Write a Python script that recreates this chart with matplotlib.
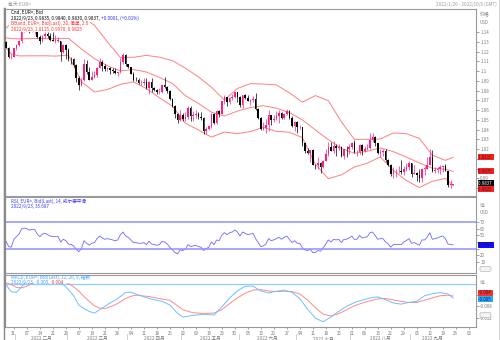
import numpy as np
import pandas as pd
import matplotlib
matplotlib.use('Agg')
import matplotlib.pyplot as plt
from matplotlib.lines import Line2D
from matplotlib.patches import Rectangle, FancyBboxPatch
from matplotlib.text import Annotation

plt.rcParams['font.family'] = ['Noto Sans CJK SC', 'DejaVu Sans']

# EUR= daily bid candles, 2022/1/26 - 2022/9/23
days = pd.bdate_range('2022-01-26', '2022-09-23')

opens = [
    1.1300, 1.1240, 1.1145, 1.1145,
    1.1235, 1.1270, 1.1305, 1.1440, 1.1450, 1.1440, 1.1415, 1.1420, 1.1425, 1.1350,
    1.1305, 1.1355, 1.1375, 1.1360, 1.1320, 1.1310, 1.1310, 1.1305, 1.1195, 1.1265,
    1.1220, 1.1125, 1.1120, 1.1065, 1.0930, 1.0855, 1.0905, 1.1075, 1.0985, 1.0912,
    1.0942, 1.0955, 1.1033, 1.1095, 1.1050, 1.1016, 1.1030, 1.1008, 1.0997, 1.0980,
    1.0985, 1.1088, 1.1160,
    1.1067, 1.1045, 1.0972, 1.0905, 1.0903, 1.0877, 1.0877, 1.0886, 1.0830, 1.0891,
    1.0825, 1.0810, 1.0780, 1.0786, 1.0854, 1.0835, 1.0795, 1.0715, 1.0640, 1.0560,
    1.0497,
    1.0545, 1.0505, 1.0525, 1.0620, 1.0540, 1.0550, 1.0560, 1.0530, 1.0515, 1.0380,
    1.0410, 1.0435, 1.0555, 1.0465, 1.0585, 1.0560, 1.0690, 1.0735, 1.0680, 1.0725,
    1.0730, 1.0780,
    1.0735, 1.0650, 1.0750, 1.0720, 1.0695, 1.0705, 1.0715, 1.0615, 1.0520, 1.0410,
    1.0415, 1.0445, 1.0545, 1.0495, 1.0510, 1.0535, 1.0565, 1.0520, 1.0555, 1.0585,
    1.0520, 1.0440,
    1.0480, 1.0425, 1.0425, 1.0265, 1.0180, 1.0160, 1.0185, 1.0040, 1.0035, 1.0060,
    1.0020, 1.0080, 1.0145, 1.0225, 1.0180, 1.0230, 1.0210, 1.0225, 1.0130, 1.0200,
    1.0195,
    1.0220, 1.0260, 1.0165, 1.0165, 1.0245, 1.0180, 1.0195, 1.0210, 1.0295, 1.0320,
    1.0260, 1.0160, 1.0170, 1.0180, 1.0090, 1.0040, 0.9940, 0.9970, 0.9970, 0.9970,
    0.9965, 1.0000, 1.0020,
    1.0055, 0.9945, 0.9955, 0.9930, 0.9905, 1.0000, 1.0000, 1.0040, 1.0120, 0.9970,
    0.9980, 0.9995, 1.0015, 1.0025, 0.9970, 0.9835, 0.9835,
]
highs = [
    1.1310, 1.1245, 1.1175, 1.1240,
    1.1275, 1.1315, 1.1450, 1.1485, 1.1460, 1.1450, 1.1450, 1.1495, 1.1440, 1.1370,
    1.1365, 1.1395, 1.1395, 1.1385, 1.1395, 1.1365, 1.1345, 1.1310, 1.1275, 1.1275,
    1.1235, 1.1145, 1.1135, 1.1070, 1.0945, 1.0930, 1.1120, 1.1110, 1.1040, 1.1000,
    1.1005, 1.1045, 1.1135, 1.1115, 1.1070, 1.1040, 1.1045, 1.1030, 1.1035, 1.0990,
    1.1135, 1.1185, 1.1170,
    1.1075, 1.1045, 1.0990, 1.0940, 1.0925, 1.0905, 1.0925, 1.0925, 1.0900, 1.0925,
    1.0840, 1.0820, 1.0825, 1.0870, 1.0935, 1.0850, 1.0805, 1.0720, 1.0655, 1.0570,
    1.0595,
    1.0565, 1.0575, 1.0640, 1.0640, 1.0590, 1.0595, 1.0575, 1.0575, 1.0530, 1.0425,
    1.0440, 1.0565, 1.0565, 1.0605, 1.0595, 1.0695, 1.0750, 1.0735, 1.0735, 1.0765,
    1.0785, 1.0785,
    1.0740, 1.0755, 1.0765, 1.0750, 1.0710, 1.0745, 1.0775, 1.0625, 1.0525, 1.0475,
    1.0505, 1.0600, 1.0550, 1.0545, 1.0585, 1.0605, 1.0575, 1.0570, 1.0615, 1.0605,
    1.0535, 1.0490,
    1.0485, 1.0445, 1.0430, 1.0275, 1.0215, 1.0190, 1.0200, 1.0050, 1.0120, 1.0070,
    1.0090, 1.0200, 1.0270, 1.0275, 1.0280, 1.0255, 1.0255, 1.0235, 1.0205, 1.0235,
    1.0255,
    1.0275, 1.0295, 1.0190, 1.0255, 1.0250, 1.0230, 1.0250, 1.0365, 1.0365, 1.0330,
    1.0265, 1.0200, 1.0200, 1.0200, 1.0095, 1.0045, 1.0015, 0.9990, 1.0030, 1.0090,
    1.0030, 1.0055, 1.0080,
    1.0055, 1.0035, 0.9960, 0.9990, 1.0010, 1.0030, 1.0115, 1.0200, 1.0185, 1.0020,
    1.0015, 1.0035, 1.0030, 1.0050, 0.9975, 0.9880, 0.9840,
]
lows = [
    1.1235, 1.1135, 1.1120, 1.1140,
    1.1215, 1.1255, 1.1290, 1.1405, 1.1410, 1.1390, 1.1400, 1.1375, 1.1340, 1.1280,
    1.1300, 1.1335, 1.1340, 1.1305, 1.1305, 1.1290, 1.1300, 1.1105, 1.1180, 1.1125,
    1.1105, 1.1070, 1.1040, 1.0890, 1.0805, 1.0850, 1.0900, 1.0970, 1.0905, 1.0910,
    1.0925, 1.0940, 1.1030, 1.1005, 1.1000, 1.0995, 1.0965, 1.0980, 1.0965, 1.0945,
    1.0980, 1.1070, 1.1055,
    1.1030, 1.0965, 1.0900, 1.0895, 1.0870, 1.0860, 1.0860, 1.0820, 1.0760, 1.0780,
    1.0800, 1.0760, 1.0760, 1.0770, 1.0830, 1.0770, 1.0700, 1.0635, 1.0515, 1.0470,
    1.0490,
    1.0490, 1.0490, 1.0505, 1.0490, 1.0485, 1.0520, 1.0510, 1.0500, 1.0355, 1.0350,
    1.0390, 1.0420, 1.0460, 1.0460, 1.0530, 1.0555, 1.0660, 1.0645, 1.0665, 1.0700,
    1.0725, 1.0680,
    1.0630, 1.0625, 1.0715, 1.0690, 1.0655, 1.0680, 1.0605, 1.0505, 1.0395, 1.0400,
    1.0360, 1.0380, 1.0445, 1.0480, 1.0500, 1.0470, 1.0505, 1.0510, 1.0545, 1.0510,
    1.0430, 1.0380,
    1.0365, 1.0410, 1.0235, 1.0160, 1.0145, 1.0070, 1.0035, 0.9998, 0.9998, 0.9952,
    1.0005, 1.0080, 1.0125, 1.0180, 1.0155, 1.0130, 1.0185, 1.0115, 1.0095, 1.0115,
    1.0145,
    1.0195, 1.0160, 1.0125, 1.0150, 1.0140, 1.0165, 1.0190, 1.0200, 1.0275, 1.0235,
    1.0150, 1.0120, 1.0125, 1.0070, 1.0030, 0.9925, 0.9900, 0.9910, 0.9950, 0.9945,
    0.9935, 0.9970, 0.9985,
    0.9910, 0.9940, 0.9875, 0.9865, 0.9865, 0.9930, 1.0000, 1.0040, 0.9965, 0.9955,
    0.9955, 0.9945, 0.9965, 0.9970, 0.9810, 0.9805, 0.9830,
]
closes = [
    1.1240, 1.1145, 1.1147, 1.1235,
    1.1270, 1.1305, 1.1440, 1.1450, 1.1440, 1.1415, 1.1425, 1.1425, 1.1350, 1.1305,
    1.1355, 1.1375, 1.1360, 1.1320, 1.1310, 1.1310, 1.1310, 1.1195, 1.1265, 1.1220,
    1.1125, 1.1120, 1.1065, 1.0930, 1.0855, 1.0905, 1.1075, 1.0985, 1.0912, 1.0942,
    1.0955, 1.1033, 1.1095, 1.1050, 1.1016, 1.1030, 1.1008, 1.0997, 1.0980, 1.0985,
    1.1088, 1.1160, 1.1067,
    1.1045, 1.0972, 1.0905, 1.0903, 1.0877, 1.0880, 1.0886, 1.0830, 1.0891, 1.0825,
    1.0810, 1.0780, 1.0786, 1.0854, 1.0835, 1.0795, 1.0715, 1.0640, 1.0560, 1.0497,
    1.0545,
    1.0505, 1.0525, 1.0620, 1.0540, 1.0550, 1.0560, 1.0530, 1.0515, 1.0380, 1.0410,
    1.0435, 1.0555, 1.0465, 1.0585, 1.0560, 1.0690, 1.0735, 1.0680, 1.0725, 1.0730,
    1.0780, 1.0735,
    1.0650, 1.0750, 1.0720, 1.0695, 1.0705, 1.0715, 1.0615, 1.0520, 1.0410, 1.0415,
    1.0445, 1.0545, 1.0495, 1.0510, 1.0535, 1.0565, 1.0520, 1.0555, 1.0585, 1.0520,
    1.0440, 1.0480,
    1.0425, 1.0427, 1.0265, 1.0180, 1.0160, 1.0185, 1.0040, 1.0035, 1.0060, 1.0020,
    1.0080, 1.0145, 1.0225, 1.0180, 1.0230, 1.0210, 1.0225, 1.0130, 1.0200, 1.0195,
    1.0220,
    1.0260, 1.0165, 1.0167, 1.0245, 1.0180, 1.0195, 1.0210, 1.0295, 1.0320, 1.0260,
    1.0160, 1.0170, 1.0180, 1.0090, 1.0040, 0.9940, 0.9970, 0.9972, 0.9970, 0.9965,
    1.0000, 1.0020, 1.0055,
    0.9945, 0.9955, 0.9930, 0.9905, 1.0000, 1.0002, 1.0040, 1.0120, 0.9970, 0.9980,
    0.9995, 1.0015, 1.0025, 0.9970, 0.9835, 0.9837, 0.9837,
]

# Bollinger band (20, 2.0), read at every fifth bar
bb_bars = [0, 2, 5, 10, 15, 19, 24, 29, 34, 39, 44, 49, 54, 59, 64, 69, 74, 79, 84,
           89, 94, 99, 104, 109, 114, 119, 124, 129, 134, 139, 144, 149, 154, 159,
           164, 169, 172]
bb_upper = [1.1440, 1.1490, 1.1505, 1.1510, 1.1510, 1.1509, 1.1507, 1.1562, 1.1469,
            1.1298, 1.1139, 1.1141, 1.1160, 1.1142, 1.1107, 1.1029, 1.0940, 1.0834,
            1.0702, 1.0821, 1.0871, 1.0866, 1.0857, 1.0776, 1.0681, 1.0748, 1.0696,
            1.0479, 1.0299, 1.0299, 1.0303, 1.0365, 1.0357, 1.0309, 1.0137, 1.0084,
            1.0115]
bb_mid = [1.1340, 1.1332, 1.1330, 1.1333, 1.1333, 1.1331, 1.1335, 1.1226, 1.1127,
          1.1054, 1.1001, 1.1015, 1.0990, 1.0934, 1.0873, 1.0747, 1.0668, 1.0578,
          1.0538, 1.0589, 1.0625, 1.0644, 1.0619, 1.0574, 1.0499, 1.0396, 1.0296,
          1.0207, 1.0157, 1.0177, 1.0211, 1.0173, 1.0117, 1.0057, 1.0003, 0.9992,
          0.9970]
bb_lower = [1.1240, 1.1175, 1.1155, 1.1156, 1.1156, 1.1153, 1.1163, 1.0890, 1.0785,
            1.0810, 1.0863, 1.0889, 1.0820, 1.0726, 1.0639, 1.0465, 1.0396, 1.0322,
            1.0374, 1.0357, 1.0379, 1.0422, 1.0381, 1.0372, 1.0317, 1.0044, 0.9896,
            0.9935, 1.0015, 1.0055, 1.0119, 0.9981, 0.9877, 0.9805, 0.9869, 0.9899,
            0.9825]

# RSI 14 (Wilder)
rsi = [
    41, 33, 32, 44,
    48, 52, 60, 61, 60, 58, 59, 59, 52, 48, 52, 53, 51, 49, 48, 48, 48, 40, 44, 42,
    37, 36, 34, 29, 25, 30, 42, 38, 35, 38, 39, 45, 49, 46, 44, 45, 44, 43, 42, 43,
    51, 55, 49,
    47, 43, 39, 39, 38, 38, 39, 36, 41, 37, 36, 35, 36, 41, 40, 37, 32, 28, 24, 22, 28,
    27, 29, 36, 33, 34, 35, 33, 32, 27, 30, 32, 40, 36, 43, 42, 50, 54, 51, 54, 55,
    58, 55,
    49, 55, 53, 51, 52, 53, 45, 39, 33, 34, 37, 45, 42, 43, 45, 47, 44, 47, 49, 44,
    39, 42,
    38, 38, 31, 28, 27, 29, 24, 24, 27, 26, 31, 37, 43, 40, 44, 43, 44, 39, 44, 44, 46,
    49, 44, 44, 50, 46, 47, 48, 54, 55, 50, 44, 45, 45, 40, 37, 32, 36, 36, 36, 36,
    40, 42, 45,
    38, 39, 37, 35, 43, 43, 47, 54, 44, 45, 46, 48, 49, 45, 37, 36, 35.687,
]

# MACD (12, 26, 9)
macd_bars = [0, 2, 4, 6, 8, 10, 12, 15, 18, 20, 22, 24, 26, 28, 30, 32, 34, 36, 38,
             40, 42, 44, 46, 48, 50, 55, 60, 63, 66, 68, 72, 76, 80, 83, 86, 89, 92,
             95, 98, 101, 104, 107, 110, 113, 116, 119, 122, 125, 128, 131, 134, 137,
             140, 143, 146, 149, 152, 155, 158, 161, 164, 167, 170, 172]
macd = [-0.0003, -0.0028, -0.0030, -0.0010, 0.0012, 0.0022, 0.0021, 0.0018, 0.0012,
        0.0008, -0.0002, -0.0020, -0.0042, -0.0075, -0.0088, -0.0098, -0.0104,
        -0.0092, -0.0080, -0.0068, -0.0058, -0.0045, -0.0030, -0.0029, -0.0036,
        -0.0052, -0.0062, -0.0075, -0.0105, -0.0118, -0.0112, -0.0108, -0.0111,
        -0.0082, -0.0050, -0.0025, -0.0008, -0.0008, -0.0025, -0.0032, -0.0026,
        -0.0022, -0.0030, -0.0052, -0.0090, -0.0122, -0.0135, -0.0118, -0.0098,
        -0.0080, -0.0066, -0.0058, -0.0050, -0.0046, -0.0056, -0.0068, -0.0072,
        -0.0066, -0.0062, -0.0042, -0.0035, -0.0031, -0.0036, -0.0050]
signal = [0.0004, -0.0002, -0.0012, -0.0014, -0.0008, 0.0002, 0.0010, 0.0016, 0.0016,
          0.0014, 0.0008, 0.0002, -0.0010, -0.0025, -0.0045, -0.0062, -0.0078,
          -0.0086, -0.0088, -0.0082, -0.0074, -0.0064, -0.0052, -0.0044, -0.0040,
          -0.0045, -0.0054, -0.0058, -0.0078, -0.0092, -0.0103, -0.0105, -0.0104,
          -0.0092, -0.0070, -0.0050, -0.0033, -0.0022, -0.0020, -0.0025, -0.0027,
          -0.0026, -0.0027, -0.0036, -0.0057, -0.0085, -0.0108, -0.0114, -0.0106,
          -0.0092, -0.0078, -0.0068, -0.0060, -0.0053, -0.0052, -0.0057, -0.0062,
          -0.0066, -0.0066, -0.0058, -0.0050, -0.0042, -0.0040, -0.0043]

month_names = ['一月', '二月', '三月', '四月', '五月', '六月', '七月', '八月', '九月']

UP = '#ff1f7f'
DOWN = '#000000'
BB = '#ff8080'
GRID = '#9a9a9a'
TICK = '#7a7a7a'
FS = 3.3

W, H = 500, 340
fig = plt.figure(figsize=(W / 100, H / 100), dpi=100)


def fx(px):
    return px / W


def fy(py):
    return 1 - py / H


def panel(left, top, right, bottom):
    ax = fig.add_axes([fx(left), fy(bottom), (right - left) / W, (bottom - top) / H])
    for s in ax.spines.values():
        s.set_color(GRID)
        s.set_linewidth(0.8)
    ax.spines['left'].set_linewidth(1.6)
    ax.spines['left'].set_color('#8a8a8a')
    ax.yaxis.tick_right()
    ax.tick_params(axis='y', labelsize=3.2, colors=TICK, length=2, width=0.5, pad=1)
    ax.tick_params(axis='x', bottom=False, labelbottom=False)
    ax.set_xlim(-0.4, 180.8)
    return ax


ax_p = panel(5, 9, 476, 196)
ax_r = panel(5, 197, 476, 273)
ax_m = panel(5, 275, 476, 327)

x = np.arange(len(closes))
o = np.array(opens)
c = np.array(closes)
up = c >= o
cols = np.where(up, UP, DOWN)

# candles
ax_p.vlines(x, lows, highs, colors=cols, linewidth=0.5, zorder=2)
body = np.maximum(np.abs(c - o), 0.0003)
ax_p.bar(x, body, bottom=np.minimum(o, c), width=0.62, color=cols, linewidth=0, zorder=3)

# bollinger band
for band in (bb_upper, bb_mid, bb_lower):
    ax_p.plot(bb_bars, band, color=BB, linewidth=0.7, zorder=1)

ax_p.set_ylim(0.9718, 1.1636)
pt = np.round(np.arange(0.98, 1.1451, 0.01), 2)
ax_p.set_yticks(pt)
# labels that sit under the value tags are left blank
hidden = {0.98, 1.0, 1.01}
ax_p.set_yticklabels(['' if v in hidden else '%g' % v for v in pt])

# RSI
ax_r.plot(x, rsi, color='#6a6aff', linewidth=0.6)
for lvl in (70, 30):
    ax_r.axhline(lvl, color='#8f8fff', linewidth=1.1)
ax_r.set_ylim(-7, 108)
ax_r.set_yticks([10, 20, 30, 40, 50, 60, 70])
ax_r.set_yticklabels(['10', '20', '', '', '50', '60', '70'])

# MACD
ax_m.axhline(0, color='#8ccfff', linewidth=0.9)
ax_m.plot(macd_bars, signal, color='#ff8a8a', linewidth=0.7)
ax_m.plot(macd_bars, macd, color='#6cc0ff', linewidth=0.7)
ax_m.set_ylim(-0.01536, 0.0032)
ax_m.set_yticks([-0.004, -0.008, -0.012])
ax_m.set_yticklabels(['', '-0.008', '-0.012'])

# date axis under the MACD panel
mondays = [i for i, d in enumerate(days) if d.weekday() == 0]
extra = pd.bdate_range('2022-09-26', '2022-10-07')
mon_pos = mondays + [len(days) + i for i, d in enumerate(extra) if d.weekday() == 0]
mon_lab = [days[i].strftime('%d') for i in mondays] + \
          [d.strftime('%d') for d in extra if d.weekday() == 0]
ax_m.tick_params(axis='x', bottom=True, labelbottom=True, labelsize=3.2,
                 colors=TICK, length=1.5, width=0.5, pad=1.5)
ax_m.set_xticks(mon_pos)
ax_m.set_xticklabels(mon_lab)

months = days.month
bounds = [i for i in range(1, len(days)) if months[i] != months[i - 1]]
for b in bounds:
    ax_m.add_line(Line2D([b - 0.5, b - 0.5], [-0.14, -0.27], transform=ax_m.get_xaxis_transform(),
                         color='#c8c8c8', linewidth=0.6, clip_on=False))
edges = [0] + bounds + [len(days)]
for a, b in zip(edges[:-1], edges[1:]):
    if b - a < 8:
        continue
    ax_m.text((a + b) / 2 - 0.5, -0.22, '2022 ' + month_names[months[a] - 1],
              transform=ax_m.get_xaxis_transform(), ha='center', va='center',
              fontsize=FS, color=TICK)

# white legend plates: they cover the marks underneath, as in the terminal
for l, t, r, b in [(9, 9.6, 138, 20.6), (9, 20.6, 90, 31.8),
                   (9, 197.8, 90, 209.5), (9, 275.8, 94, 283.2)]:
    fig.add_artist(Rectangle((fx(l), fy(b)), (r - l) / W, (b - t) / H,
                             transform=fig.transFigure, facecolor='white',
                             edgecolor='none', zorder=1))

# small scale buttons at the foot of the lower axis columns
for t in (266.5, 312.5):
    fig.add_artist(FancyBboxPatch((fx(480), fy(t + 5)), 11 / W, 5 / H,
                                  boxstyle='round,pad=0,rounding_size=0.004',
                                  transform=fig.transFigure, facecolor='#f4f4f4',
                                  edgecolor='#b8b8b8', linewidth=0.5, zorder=2))


def label(px, py, s, color, size=FS, **kw):
    return fig.text(fx(px), fy(py), s, fontsize=size, color=color, va='center',
                    ha=kw.pop('ha', 'left'), zorder=3, **kw)


def follow(prev, s, color):
    # text that continues right after another one, in another colour
    a = Annotation(s, xy=(1, 0.5), xycoords=prev, va='center', ha='left',
                   fontsize=FS, color=color, annotation_clip=False)
    a.set_zorder(3)
    fig.add_artist(a)
    return a


label(8, 4, '每天 EUR=', '#9a9a9a', size=3.5)
label(497, 4, '2022/1/26 - 2022/10/6 (GMT)', '#9a9a9a', ha='right')

label(11, 12.6, 'Cnd, EUR=, Bid', 'black')
t1 = label(11, 18.2, '2022/9/23, 0.9835, 0.9840, 0.9830, 0.9837, ', 'black')
follow(t1, '+0.0001, (+0.01%)', '#2b2bff')
label(11, 23.6, 'BBand, EUR=, Bid(Last), 20, 简单, 2.0', '#ff3030')
label(11, 29.0, '2022/9/23, 1.0115, 0.9970, 0.9825', '#ff3030')

label(11, 200.8, 'RSI, EUR=, Bid(Last), 14, 威尔德平滑', '#3a3aff')
label(11, 206.4, '2022/9/23, 35.687', '#3a3aff')

label(11, 277.4, 'MACD, EUR=, Bid(Last), 12, 26, 9, 指数', '#3aa0ff')
t2 = label(11, 282.0, '2022/9/23, -0.005, ', '#3aa0ff')
follow(t2, '-0.004', '#ff4040')

# right column captions
label(480, 15, '价格', TICK, size=3.5)
label(480, 22, 'USD', TICK, size=3.2)
label(480, 206, '值', '#a0a0a0', size=3.5)
label(480, 212, 'USD', TICK, size=3.2)
label(480, 283, '值', '#a0a0a0', size=3.5)


def tag(ax, value, text, face, fg, dy=0):
    ax.annotate(text, xy=(1, value), xycoords=ax.get_yaxis_transform(),
                xytext=(1.5, dy), textcoords='offset points', fontsize=3.2, color=fg,
                va='center', ha='left', annotation_clip=False,
                bbox=dict(boxstyle='square,pad=0.12', facecolor=face, edgecolor='none'))


tag(ax_p, bb_upper[-1], '1.0115  ', '#ff2020', '#222222')
tag(ax_p, bb_mid[-1], '0.9970  ', '#ff2020', '#222222')
tag(ax_p, closes[-1], '0.9837  ', '#000000', 'white', dy=0.7)
tag(ax_p, bb_lower[-1], '0.9825  ', '#ff2020', '#222222', dy=-2.6)
tag(ax_r, rsi[-1], '35.687  ', '#1010ff', '#101040')
tag(ax_m, signal[-1], '-0.004  ', '#ff3030', '#222222', dy=2.2)
tag(ax_m, macd[-1], '-0.005  ', '#2aa8ff', '#102040', dy=-0.9)

fig.add_artist(Line2D([fx(3.5), fx(3.5)], [0, fy(8)], color='#8a8a8a', linewidth=1.0))
fig.add_artist(Line2D([fx(498.5), fx(498.5)], [0, 1], color='#d8d8d8', linewidth=0.8))

fig.savefig('out.png', dpi=100, facecolor='white')
